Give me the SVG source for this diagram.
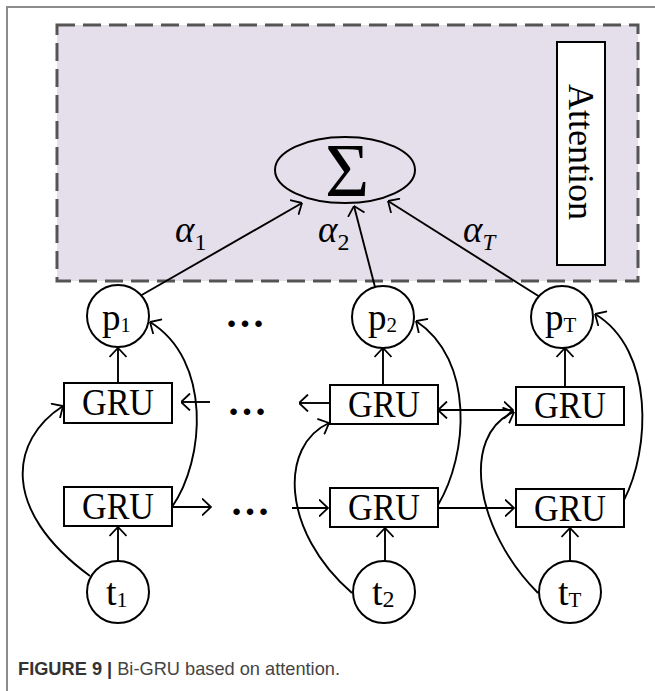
<svg xmlns="http://www.w3.org/2000/svg" width="655" height="691" viewBox="0 0 655 691">
<defs>
<style>
.ln{fill:none;stroke:#000;stroke-width:1.9}
.node{fill:#fff;stroke:#000;stroke-width:2}
.lbl{font-family:"Liberation Serif","Times New Roman",serif;fill:#000}
.gru{font-family:"Liberation Serif","Times New Roman",serif;font-size:37px;text-anchor:middle;fill:#000}
.dots{font-family:"Liberation Serif","Times New Roman",serif;font-size:40px;font-weight:bold;text-anchor:middle;fill:#000}
.arr{marker-end:url(#ah)}
</style>
<marker id="ah" viewBox="0 0 10 18" refX="9.5" refY="9" markerWidth="10" markerHeight="18" markerUnits="userSpaceOnUse" orient="auto-start-reverse">
<path d="M0.5,0.5 L9.5,9 L0.5,17.5" fill="none" stroke="#000" stroke-width="1.8"/>
</marker>
</defs>
<rect width="655" height="691" fill="#fff"/>
<path d="M7,691 V7 H655" fill="none" stroke="#8c8c8c" stroke-width="2"/>

<g id="attention-region">
<rect x="57" y="25" width="581" height="256" fill="#e4dfea" stroke="#555" stroke-width="3" stroke-dasharray="18,8"/>
</g>
<g id="attention-label">
<rect x="557" y="42" width="48" height="223" fill="#fff" stroke="#000" stroke-width="2"/>
<text class="lbl" font-size="36" text-anchor="middle" transform="translate(581,152) rotate(90)" x="0" y="12">Attention</text>
</g>
<g id="sum">
<ellipse cx="345" cy="170" rx="70" ry="33" fill="none" stroke="#000" stroke-width="2"/>
<text class="lbl" font-size="76" text-anchor="middle" x="347" y="196">Σ</text>
</g>

<g id="connectors">
<path class="ln arr" d="M140,296 L302,203"/>
<path class="ln arr" d="M375,287 L354,206"/>
<path class="ln arr" d="M540,297 L388,201"/>
<path class="ln arr" d="M118,383 V348"/>
<path class="ln arr" d="M383,385 V348"/>
<path class="ln arr" d="M565,387 V348"/>
<path class="ln arr" d="M118,561 V527"/>
<path class="ln arr" d="M385,562 V528"/>
<path class="ln arr" d="M570,561 V528"/>
<path class="ln arr" d="M210,402 H181"/>
<path class="ln arr" d="M330,403 H299"/>
<path class="ln arr" d="M438,410 H513" style="marker-start:url(#ah)"/>
<path class="ln arr" d="M172,507 H211"/>
<path class="ln arr" d="M292,508 H328"/>
<path class="ln arr" d="M438,508 H514"/>
<path class="ln arr" d="M90,576 C0,510 10,440 63,406"/>
<path class="ln arr" d="M172,507 C205,460 212,360 150,322"/>
<path class="ln arr" d="M352,593 C280,530 280,445 329,423"/>
<path class="ln arr" d="M438,505 C468,455 475,360 416,321"/>
<path class="ln arr" d="M538,593 C475,530 460,435 514,412"/>
<path class="ln arr" d="M624,500 C650,450 655,350 595,314"/>
</g>

<g id="alpha-labels">
<text class="lbl" x="175" y="242"><tspan font-size="37" font-style="italic">α</tspan><tspan font-size="24" dy="8">1</tspan></text>
<text class="lbl" x="318" y="242"><tspan font-size="37" font-style="italic">α</tspan><tspan font-size="24" dy="8">2</tspan></text>
<text class="lbl" x="463" y="242"><tspan font-size="37" font-style="italic">α</tspan><tspan font-size="23" dy="8" font-style="italic">T</tspan></text>
</g>

<g id="p1"><circle class="node" cx="118" cy="316" r="31"/><text class="lbl" x="102" y="330"><tspan font-size="37">p</tspan><tspan font-size="20" dy="2">1</tspan></text></g>
<g id="p2"><circle class="node" cx="383" cy="317" r="31"/><text class="lbl" x="368" y="330"><tspan font-size="37">p</tspan><tspan font-size="21" dy="2">2</tspan></text></g>
<g id="pT"><circle class="node" cx="562" cy="317" r="31"/><text class="lbl" x="545" y="330"><tspan font-size="37">p</tspan><tspan font-size="21" dy="2">T</tspan></text></g>

<g id="dots-top"><text class="dots" x="245" y="327">…</text></g>
<g id="dots-mid"><text class="dots" x="247" y="415">…</text></g>
<g id="dots-bot"><text class="dots" x="250" y="515">…</text></g>

<g id="gru-b1"><rect class="node" x="64" y="383" width="108" height="40"/><text class="gru" x="118" y="415" textLength="72" lengthAdjust="spacingAndGlyphs">GRU</text></g>
<g id="gru-b2"><rect class="node" x="330" y="385" width="108" height="39"/><text class="gru" x="384" y="417" textLength="72" lengthAdjust="spacingAndGlyphs">GRU</text></g>
<g id="gru-bT"><rect class="node" x="516" y="387" width="108" height="38"/><text class="gru" x="570" y="418" textLength="72" lengthAdjust="spacingAndGlyphs">GRU</text></g>
<g id="gru-f1"><rect class="node" x="64" y="487" width="108" height="39"/><text class="gru" x="118" y="519" textLength="72" lengthAdjust="spacingAndGlyphs">GRU</text></g>
<g id="gru-f2"><rect class="node" x="330" y="488" width="108" height="39"/><text class="gru" x="384" y="520" textLength="72" lengthAdjust="spacingAndGlyphs">GRU</text></g>
<g id="gru-fT"><rect class="node" x="516" y="489" width="108" height="38"/><text class="gru" x="570" y="521" textLength="72" lengthAdjust="spacingAndGlyphs">GRU</text></g>

<g id="t1"><circle class="node" cx="118" cy="592" r="31"/><text class="lbl" x="106" y="605"><tspan font-size="38">t</tspan><tspan font-size="22" dy="2">1</tspan></text></g>
<g id="t2"><circle class="node" cx="384" cy="592" r="31"/><text class="lbl" x="372" y="605"><tspan font-size="38">t</tspan><tspan font-size="24" dy="2">2</tspan></text></g>
<g id="tT"><circle class="node" cx="570" cy="592" r="31"/><text class="lbl" x="558" y="605"><tspan font-size="38">t</tspan><tspan font-size="21" dy="2">T</tspan></text></g>

<g id="caption">
<text x="18" y="675" font-family="'Liberation Sans',Arial,sans-serif" font-size="18.5" fill="#333" textLength="322" lengthAdjust="spacingAndGlyphs"><tspan font-weight="bold">FIGURE 9 | </tspan><tspan fill="#444">Bi-GRU based on attention.</tspan></text>
</g>
</svg>
